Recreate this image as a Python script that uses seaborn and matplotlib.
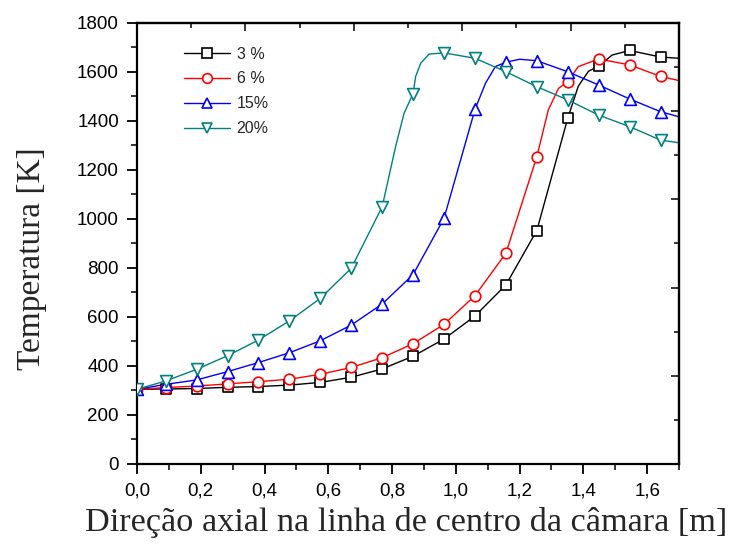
import numpy as np
import pandas as pd
import matplotlib
matplotlib.use("Agg")
import matplotlib.pyplot as plt
from matplotlib.lines import Line2D
from matplotlib.ticker import FixedLocator, MultipleLocator, FuncFormatter
import seaborn as sns

# Axial positions of the plotted samples [m]
x_marks = [0.0, 0.09, 0.187, 0.284, 0.381, 0.478, 0.575, 0.672, 0.769,
           0.866, 0.963, 1.06, 1.157, 1.254, 1.351, 1.448, 1.545, 1.642]
x_end = 1.7

# Centre-line temperature [K] for each excess level
T_3 = [305, 306, 308, 313, 316, 322, 333, 354, 388, 440, 510, 604, 731,
       953, 1411, 1624, 1688, 1661]
T_6 = [305, 312, 318, 327, 336, 346, 366, 394, 434, 491, 570, 687, 860,
       1254, 1561, 1653, 1629, 1582]
T_15 = [305, 325, 343, 377, 414, 454, 503, 567, 653, 773, 1003, 1447, 1640,
        1646, 1601, 1547, 1490, 1438]
T_20 = [305, 339, 386, 442, 506, 584, 676, 799, 1050, 1512, 1678, 1656, 1601,
        1540, 1486, 1424, 1377, 1322]
T_end = [1656, 1565, 1417, 1311]

# Extra curve samples between the markers (line only)
bend_3_x = [1.384, 1.416, 1.49]
bend_3_T = [1542, 1603, 1669]
bend_6_x = [1.29, 1.322, 1.384]
bend_6_T = [1445, 1533, 1622]
bend_15_x = [1.093, 1.124, 1.20]
bend_15_T = [1554, 1622, 1652]
bend_20_x = [0.811, 0.8375, 0.874, 0.890, 0.916]
bend_20_T = [1295, 1431, 1582, 1636, 1673]

labels = ["3 %", "6 %", "15%", "20%"]
colors = ["black", "#FF0000", "#0000FF", "#008080"]
markers = ["s", "o", "^", "v"]
sizes = [52, 58, 72, 72]

sns.set_theme(style="ticks")
plt.rcParams["font.family"] = ["Liberation Sans", "DejaVu Sans"]

fig = plt.figure(figsize=(7.31, 5.5), dpi=100)
ax = fig.add_axes([0.1874, 0.1564, 0.7415, 0.8018])

series = [
    (T_3, bend_3_x, bend_3_T, T_end[0]),
    (T_6, bend_6_x, bend_6_T, T_end[1]),
    (T_15, bend_15_x, bend_15_T, T_end[2]),
    (T_20, bend_20_x, bend_20_T, T_end[3]),
]

for (T, bx, bT, te), c, m, s in zip(series, colors, markers, sizes):
    line = pd.DataFrame({
        "x": list(x_marks) + list(bx) + [x_end],
        "T": list(T) + list(bT) + [te],
    }).sort_values("x")
    sns.lineplot(data=line, x="x", y="T", color=c, lw=1.0, ax=ax,
                 legend=False, sort=True, estimator=None, zorder=2)
    sns.scatterplot(x=x_marks, y=T, marker=m, s=s, ax=ax, legend=False,
                    facecolor="white", edgecolor=c, linewidth=1.2, zorder=3,
                    clip_on=True)

ax.set_xlim(0, 1.7)
ax.set_ylim(0, 1800)

ax.xaxis.set_major_locator(MultipleLocator(0.2))
ax.xaxis.set_minor_locator(MultipleLocator(0.1))
ax.yaxis.set_major_locator(MultipleLocator(200))
ax.yaxis.set_minor_locator(MultipleLocator(100))
ax.xaxis.set_major_formatter(FuncFormatter(lambda v, p: f"{v:.1f}".replace(".", ",")))
ax.yaxis.set_major_formatter(FuncFormatter(lambda v, p: f"{v:.0f}"))

ax.tick_params(which="major", direction="out", length=7, width=1.3,
               labelsize=13.5, pad=6, colors="black")
ax.tick_params(which="minor", direction="out", length=4, width=1.3)

for sp in ax.spines.values():
    sp.set_linewidth(1.6)
    sp.set_color("black")
    sp.set_visible(True)

# Inward ticks on the upper and right frame
top = ax.secondary_xaxis("top")
top.set_xticks(np.arange(0, 1.71, 0.34), labels=[])
top.xaxis.set_minor_locator(FixedLocator(np.arange(0.17, 1.71, 0.34)))
top.tick_params(which="major", direction="in", length=6, width=1.3)
top.tick_params(which="minor", direction="in", length=3.5, width=1.3)
top.spines["top"].set_linewidth(1.6)

right = ax.secondary_yaxis("right")
right.set_yticks(np.arange(0, 1801, 360), labels=[])
right.yaxis.set_minor_locator(FixedLocator(np.arange(180, 1801, 360)))
right.tick_params(which="major", direction="in", length=6, width=1.3)
right.tick_params(which="minor", direction="in", length=3.5, width=1.3)
right.spines["right"].set_linewidth(1.6)

serif = ["Liberation Serif", "DejaVu Serif"]
ax.set_xlabel("Direção axial na linha de centro da câmara [m]",
              family=serif, fontsize=24.7)
ax.set_ylabel("Temperatura [K]", family=serif, fontsize=24)
ax.xaxis.set_label_coords(0.496, -0.098)
ax.yaxis.set_label_coords(-0.166, 0.465)

handles = [Line2D([], [], color=c, lw=1.0, marker=m, ms=7,
                  mfc="white", mec=c, mew=1.2)
           for c, m in zip(colors, markers)]
ax.legend(handles, labels, loc="upper left", bbox_to_anchor=(0.066, 0.972),
          frameon=False, fontsize=11.5, handlelength=2.9,
          handletextpad=0.4, labelspacing=0.62, borderpad=0.2)

fig.savefig("out.png", dpi=100)
